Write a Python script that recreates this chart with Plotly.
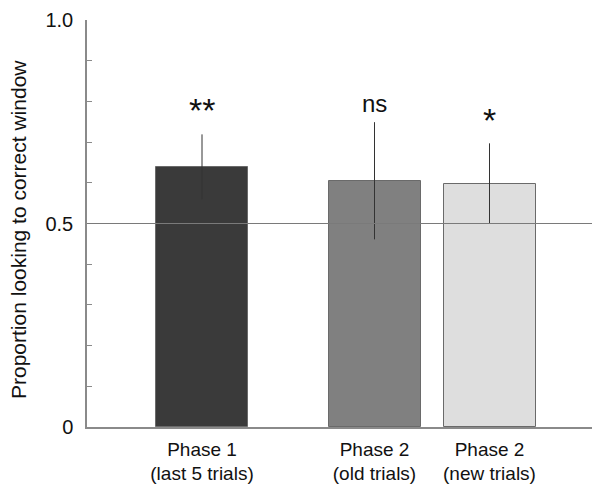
import plotly.graph_objects as go

categories = ["Phase 1<br>(last 5 trials)", "Phase 2<br>(old trials)", "Phase 2<br>(new trials)"]
positions = [0, 1.5, 2.5]
values = [0.638, 0.605, 0.598]
err_plus = [0.081, 0.144, 0.099]
err_minus = [0.078, 0.144, 0.098]
sig_labels = ["**", "ns", "*"]
sig_y = [0.778, 0.795, 0.755]
bar_colors = ["#3a3a3a", "#808080", "#dedede"]
y_tickvals = [0, 0.1, 0.2, 0.3, 0.4, 0.5, 0.6, 0.7, 0.8, 0.9, 1.0]
y_ticktext = ["0", "", "", "", "", "0.5", "", "", "", "", "1.0"]
y_title = "Proportion looking to correct window"

FONT = "Liberation Sans, Arial, Helvetica, sans-serif"
AXIS_COLOR = "#8a8a8a"

# the page body has an 8px default margin; margins below compensate for it
ML, MR, MT, MB = 79, 15, 12, 74
PLOT_W = 600 - ML - MR

fig = go.Figure()
fig.add_trace(go.Bar(
    x=positions, y=values, width=0.8,
    marker=dict(color=bar_colors, line=dict(color="#6a6a6a", width=1)),
    error_y=dict(type="data", symmetric=False, array=err_plus, arrayminus=err_minus,
                 color="#333333", thickness=1, width=0),
    showlegend=False,
))

fig.add_shape(type="line", xref="paper", yref="y", x0=0, x1=1, y0=0.5, y1=0.5,
              line=dict(color="#7a7a7a", width=1), layer="above")

for xp, lab, yy in zip(positions, sig_labels, sig_y):
    size = 24 if lab == "ns" else 34
    fig.add_annotation(x=xp, y=yy, text=lab, showarrow=False,
                       font=dict(family=FONT, size=size, color="#111111"),
                       xanchor="center", yanchor="middle")

fig.add_annotation(x=(10 - ML) / PLOT_W, y=0.484, xref="paper", yref="paper",
                   text=y_title, textangle=-90, showarrow=False,
                   xanchor="center", yanchor="middle",
                   font=dict(family=FONT, size=21, color="#111111"))

fig.update_layout(
    width=600, height=493,
    margin=dict(l=ML, r=MR, t=MT, b=MB),
    paper_bgcolor="white", plot_bgcolor="white",
    font=dict(family=FONT, size=19, color="#111111"),
    bargap=0,
)
fig.update_xaxes(
    range=[-1, 3.4], tickvals=positions, ticktext=categories,
    showline=True, linecolor=AXIS_COLOR, linewidth=1.5,
    ticks="", showgrid=False, zeroline=False, automargin=False,
    ticklabelstandoff=4,
    tickfont=dict(family=FONT, size=19, color="#111111"),
)
fig.update_yaxes(
    range=[0, 1], tickvals=y_tickvals, ticktext=y_ticktext,
    showline=True, linecolor=AXIS_COLOR, linewidth=1.5,
    ticks="inside", ticklen=5, tickcolor=AXIS_COLOR, tickwidth=1,
    showgrid=False, zeroline=False, ticklabelstandoff=8, automargin=False,
    tickfont=dict(family=FONT, size=20, color="#111111"),
)

fig.write_html("out.html")
